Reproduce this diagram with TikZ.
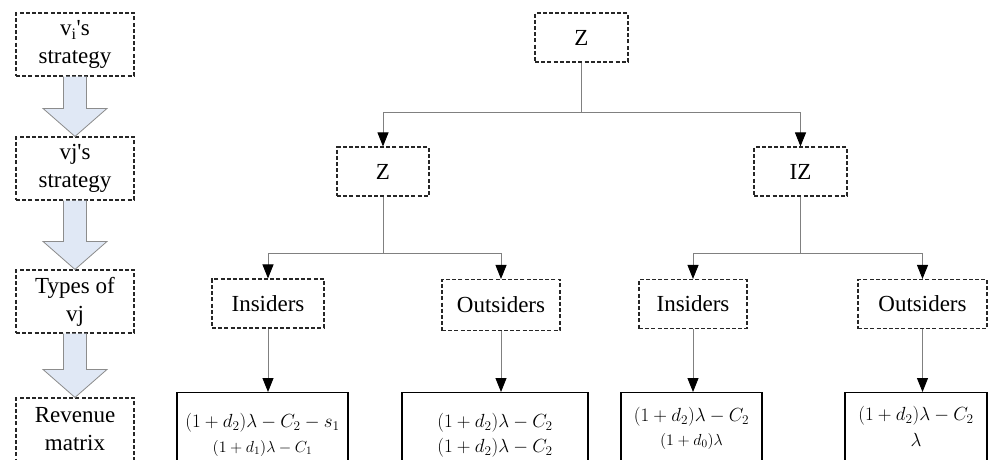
\documentclass[tikz,border=0pt]{standalone}
\usepackage{fix-cm}
\usepackage{fontspec}
\setmainfont{Liberation Serif}
\newfontfamily\plainserif{Liberation Serif}
\newcommand{\sq}{{\plainserif\char"0027}}
\usetikzlibrary{arrows.meta,calc}
\tikzset{
  dbox/.style={draw=black!85, dash pattern=on 4pt off 2.2pt, line width=1.1pt, inner sep=0pt, align=center},
  lbox/.style={dbox, minimum width=118pt, minimum height=63pt, font=\fontsize{23}{28}\selectfont},
  tbox/.style={dbox, minimum height=49pt, font=\fontsize{23}{26}\selectfont},
  conn/.style={draw=black!50, line width=0.9pt},
  tip/.style={-{Triangle[width=11pt,length=14pt,color=black]}},
  rbox/.style={draw=black, line width=1.2pt, anchor=north, minimum height=90pt, inner sep=0pt},
  mth/.style={inner sep=0pt, font=\fontsize{19}{22}\selectfont},
  mths/.style={inner sep=0pt, font=\fontsize{16}{19}\selectfont},
  blkfill/.style={fill={rgb,255:red,224;green,232;blue,245}},
  blkline/.style={draw=black!45, line width=0.8pt, line join=miter}
}
\newcommand{\blockarrow}[2]{%
  \path[blkfill] ([xshift=-11.5pt]#1.south) -- ([xshift=-11.5pt,yshift=28pt]#2.north) -- ([xshift=-32pt,yshift=28pt]#2.north) -- (#2.north) -- ([xshift=32pt,yshift=28pt]#2.north) -- ([xshift=11.5pt,yshift=28pt]#2.north) -- ([xshift=11.5pt]#1.south) -- cycle;
  \draw[blkline] ([xshift=-11.5pt]#1.south) -- ([xshift=-11.5pt,yshift=28pt]#2.north) -- ([xshift=-32pt,yshift=28pt]#2.north) -- (#2.north) -- ([xshift=32pt,yshift=28pt]#2.north) -- ([xshift=11.5pt,yshift=28pt]#2.north) -- ([xshift=11.5pt]#1.south);
}
\begin{document}
\begin{tikzpicture}[x=1pt,y=-1pt]
\useasboundingbox (0,0) rectangle (989,459);
% left column
\node[lbox] (s1) at (75,44.5) {v\textsubscript{i}\sq s\\strategy};
\node[lbox] (s2) at (75,168.5) {vj\sq s\\strategy};
\node[lbox] (s3) at (75,301.5) {Types of\\vj};
\node[lbox] (s4) at (75,429.5) {Revenue\\matrix};
\blockarrow{s1}{s2}
\blockarrow{s2}{s3}
\blockarrow{s3}{s4}
% tree
\node[tbox, minimum width=93pt] (z0) at (581.5,37.5) {Z};
\node[tbox, minimum width=92pt] (z1) at (383,171.5) {Z};
\node[tbox, minimum width=93pt] (iz) at (800.5,171.5) {IZ};
\node[tbox, minimum width=112pt] (in1) at (268,303.5) {Insiders};
\node[tbox, minimum width=118pt, minimum height=51pt] (out1) at (501,305) {Outsiders};
\node[tbox, minimum width=108pt] (in2) at (693,304) {Insiders};
\node[tbox, minimum width=129pt] (out2) at (922.5,304) {Outsiders};
\coordinate (h0) at (0,112);
\coordinate (h1) at (0,253);
\draw[conn,tip] (z0.south) |- (z1.north |- h0) -- (z1.north);
\draw[conn,tip] (z0.south) |- (iz.north |- h0) -- (iz.north);
\draw[conn,tip] (z1.south) |- (in1.north |- h1) -- (in1.north);
\draw[conn,tip] (z1.south) |- (out1.north |- h1) -- (out1.north);
\draw[conn,tip] (iz.south) |- (in2.north |- h1) -- (in2.north);
\draw[conn,tip] (iz.south) |- (out2.north |- h1) -- (out2.north);
% revenue boxes
\node[rbox, minimum width=171pt] (r1) at (262.5,392) {};
\node[rbox, minimum width=186pt] (r2) at (495,392) {};
\node[rbox, minimum width=141pt] (r3) at (691.5,392) {};
\node[rbox, minimum width=142pt] (r4) at (916,392) {};
\draw[conn,tip] (in1.south) -- (in1.south |- r1.north);
\draw[conn,tip] (out1.south) -- (out1.south |- r2.north);
\draw[conn,tip] (in2.south) -- (in2.south |- r3.north);
\draw[conn,tip] (out2.south) -- (out2.south |- r4.north);
\node[mth] (r1a) at (262.5,423) {$(1+d_2)\lambda-C_2-s_1$};
\node[mths] (r1b) at (262.5,448) {$(1+d_1)\lambda-C_1$};
\node[mth] (r2a) at (495,423) {$(1+d_2)\lambda-C_2$};
\node[mth] (r2b) at (495,448) {$(1+d_2)\lambda-C_2$};
\node[mth] (r3a) at (691.5,417) {$(1+d_2)\lambda-C_2$};
\node[mths] (r3b) at (691.5,441) {$(1+d_0)\lambda$};
\node[mth] (r4a) at (916,416) {$(1+d_2)\lambda-C_2$};
\node[mth] (r4b) at (916,440) {$\lambda$};
\end{tikzpicture}
\end{document}
